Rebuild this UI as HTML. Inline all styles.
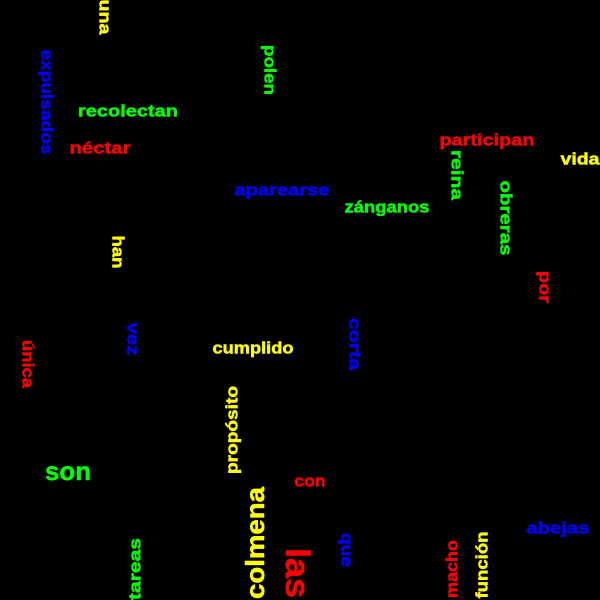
<!DOCTYPE html>
<html><head><meta charset="utf-8"><style>
html,body{margin:0;padding:0;background:#000;}
svg{display:block}
text{font-family:"Liberation Sans","DejaVu Sans",sans-serif;font-weight:bold;}
</style></head><body>
<svg id="cloud" width="600" height="600" viewBox="0 0 600 600">
<rect width="600" height="600" fill="#000"/>
</svg>
<script>
const words = ["una","expulsados","polen","reina","obreras","por","han","vez","corta","única","propósito","colmena","las","que","tareas","macho","función","recolectan","néctar","participan","vida","aparearse","zánganos","cumplido","son","con","abejas"];
const colors = ["#ffff00","#0000ff","#00ff00","#00ff00","#00ff00","#ff0000","#ffff00","#0000ff","#0000ff","#ff0000","#ffff00","#ffff00","#ff0000","#0000ff","#00ff00","#ff0000","#ffff00","#00ff00","#ff0000","#ff0000","#ffff00","#0000ff","#00ff00","#ffff00","#00ff00","#ff0000","#0000ff"];
const sizes = [17,17,17,17,17,17,17,17,17,17,17,26,34,17,17,17,17,17,17,17,17,17,17,17,26,17,17];
const cx = [105,47,270,457,506,545,118,133,355,28,232,255,297,347,135,452,482,128,100,487,580,282,387,253,68,310,558];
const cy = [17,102,70,175,218,287,252,339,344,364,430,543,573,550,569,569,565,111,148,140,159,190,207,348,471,481,528];
const lens = [35,105,50,50,75,32,33,33,52,48,88,112,50,34,62,58,67,100,61,95,39,95,85,81,46,31,63];
const rots = [90,90,90,90,90,90,90,90,90,90,-90,-90,90,90,-90,-90,-90,0,0,0,0,0,0,0,0,0,0];
const svg = document.getElementById('cloud');
const NS = "http://www.w3.org/2000/svg";
words.forEach((w,i)=>{
  const t = document.createElementNS(NS,'text');
  
  
  t.setAttribute('x', 0);
  t.setAttribute('y', 0);
  t.setAttribute('text-anchor','middle');
  t.setAttribute('dominant-baseline','central');
  t.setAttribute('font-size', sizes[i]);
  t.setAttribute('fill', colors[i]);
  t.setAttribute('stroke', colors[i]);
  t.setAttribute('stroke-width', '0.5');
  t.setAttribute('textLength', lens[i]);
  t.setAttribute('lengthAdjust','spacingAndGlyphs');
  t.setAttribute('transform','translate('+cx[i]+','+cy[i]+') rotate('+rots[i]+')');
  t.textContent = w;
  svg.appendChild(t);
});
</script>
</body></html>
